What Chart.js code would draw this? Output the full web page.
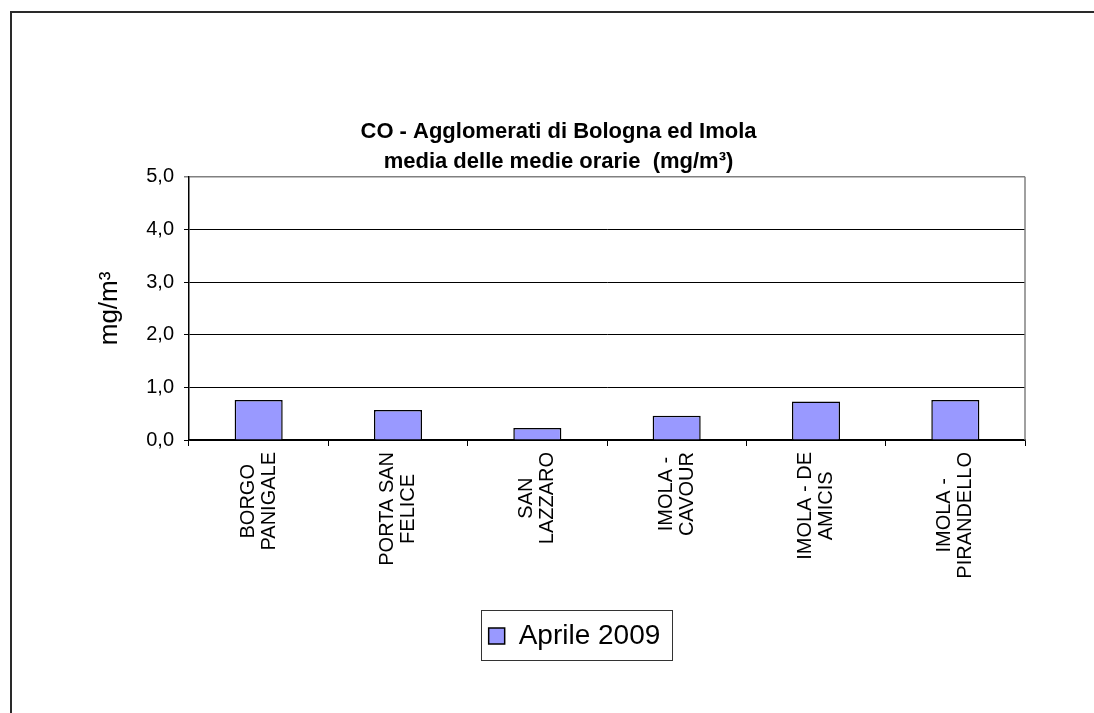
<!DOCTYPE html>
<html>
<head>
<meta charset="utf-8">
<script src="https://cdn.jsdelivr.net/npm/chart.js@4"></script>
<style>
  html, body { margin: 0; padding: 0; background: #fff; }
  #wrap { position: relative; width: 1094px; height: 713px; }
  #frame { position: absolute; left: 10px; top: 11px; right: -5px; bottom: -5px;
           border-left: 2px solid #2a2a2a; border-top: 2px solid #2a2a2a; pointer-events: none; }
</style>
</head>
<body>
<div id="wrap">
  <canvas id="c" width="1094" height="713"></canvas>
  <div id="frame"></div>
</div>
<script>
const stations = [
  ["BORGO", "PANIGALE"],
  ["PORTA SAN", "FELICE"],
  ["SAN", "LAZZARO"],
  ["IMOLA -", "CAVOUR"],
  ["IMOLA - DE", "AMICIS"],
  ["IMOLA -", "PIRANDELLO"]
];
const seriesName = "Aprile 2009";
const coValues = [0.76, 0.57, 0.23, 0.46, 0.73, 0.76];
const yTicks = [0, 1, 2, 3, 4, 5];

const FONT = "'Liberation Sans', Arial, sans-serif";

// x labels drawn centred line by line, rotated like the original
const rotatedLabels = {
  id: 'rotatedLabels',
  afterDraw(chart) {
    const ctx = chart.ctx;
    const xs = chart.scales.x;
    ctx.save();
    ctx.font = '20px ' + FONT;
    ctx.fillStyle = '#000';
    ctx.textAlign = 'center';
    ctx.textBaseline = 'middle';
    const lh = 21;
    stations.forEach((lines, i) => {
      const px = xs.getPixelForTick(i);
      const w = Math.max(...lines.map(l => ctx.measureText(l).width));
      const cy = xs.top + 12 + w / 2;
      ctx.save();
      ctx.translate(px, cy);
      ctx.rotate(-Math.PI / 2);
      lines.forEach((l, j) => {
        ctx.fillText(l, 0, (j - (lines.length - 1) / 2) * lh);
      });
      ctx.restore();
    });
    ctx.restore();
  }
};

// legend sits a little right of centre in the original
const legendShift = {
  id: 'legendShift',
  afterLayout(chart) {
    chart.legend.left += 16;
    chart.legend.right += 16;
  }
};

// right border of plot + frame round the legend
const extras = {
  id: 'extras',
  afterDraw(chart) {
    const ctx = chart.ctx;
    const a = chart.chartArea;
    ctx.save();
    ctx.strokeStyle = '#808080';
    ctx.lineWidth = 1.5;
    ctx.beginPath();
    ctx.moveTo(a.right, a.top);
    ctx.lineTo(a.right, a.bottom);
    ctx.stroke();
    const hb = chart.legend.legendHitBoxes[0];
    if (hb) {
      ctx.strokeStyle = '#333';
      ctx.lineWidth = 1;
      ctx.strokeRect(Math.round(hb.left - 8) + 0.5, Math.round(chart.legend.top) + 0.5,
                     Math.round(hb.width + 19), Math.round(chart.legend.height));
    }
    ctx.restore();
  }
};

new Chart(document.getElementById('c'), {
  type: 'bar',
  data: {
    labels: stations,
    datasets: [{
      label: seriesName,
      data: coValues,
      backgroundColor: '#9999ff',
      borderColor: '#000',
      borderWidth: 1.5,
      categoryPercentage: 1,
      barPercentage: 0.345
    }]
  },
  options: {
    responsive: false,
    animation: false,
    layout: { padding: { top: 117, left: 92, right: 69, bottom: 53 } },
    plugins: {
      title: {
        display: true,
        text: ['CO - Agglomerati di Bologna ed Imola', 'media delle medie orarie  (mg/m³)'],
        color: '#000',
        font: { family: FONT, size: 22, weight: 'bold', lineHeight: 1.36 },
        padding: 0
      },
      legend: {
        position: 'bottom',
        labels: {
          color: '#000',
          font: { family: FONT, size: 28 },
          boxWidth: 16,
          boxHeight: 16,
          padding: 12
        }
      },
      tooltip: { enabled: false }
    },
    scales: {
      x: {
        afterFit: s => { s.height = 170; },
        ticks: { display: false },
        grid: { offset: true, drawOnChartArea: false, color: '#000', tickLength: 6 },
        border: { color: '#000', width: 1.5 }
      },
      y: {
        min: 0,
        max: 5,
        afterFit: s => { s.width = 97; },
        afterBuildTicks: s => { s.ticks = yTicks.map(v => ({ value: v })); },
        ticks: {
          color: '#000',
          padding: 10,
          font: { family: FONT, size: 20 },
          callback: v => v.toFixed(1).replace('.', ',')
        },
        grid: {
          color: c => (c.tick && c.tick.value === 5 ? '#808080' : '#000'),
          lineWidth: c => (c.tick && c.tick.value === 5 ? 1.5 : 1),
          tickLength: 5
        },
        border: { color: '#000', width: 1.5 },
        title: {
          display: true,
          text: 'mg/m³',
          color: '#000',
          font: { family: FONT, size: 26 },
          padding: { top: 2, bottom: 0 }
        }
      }
    }
  },
  plugins: [rotatedLabels, legendShift, extras]
});
</script>
</body>
</html>
